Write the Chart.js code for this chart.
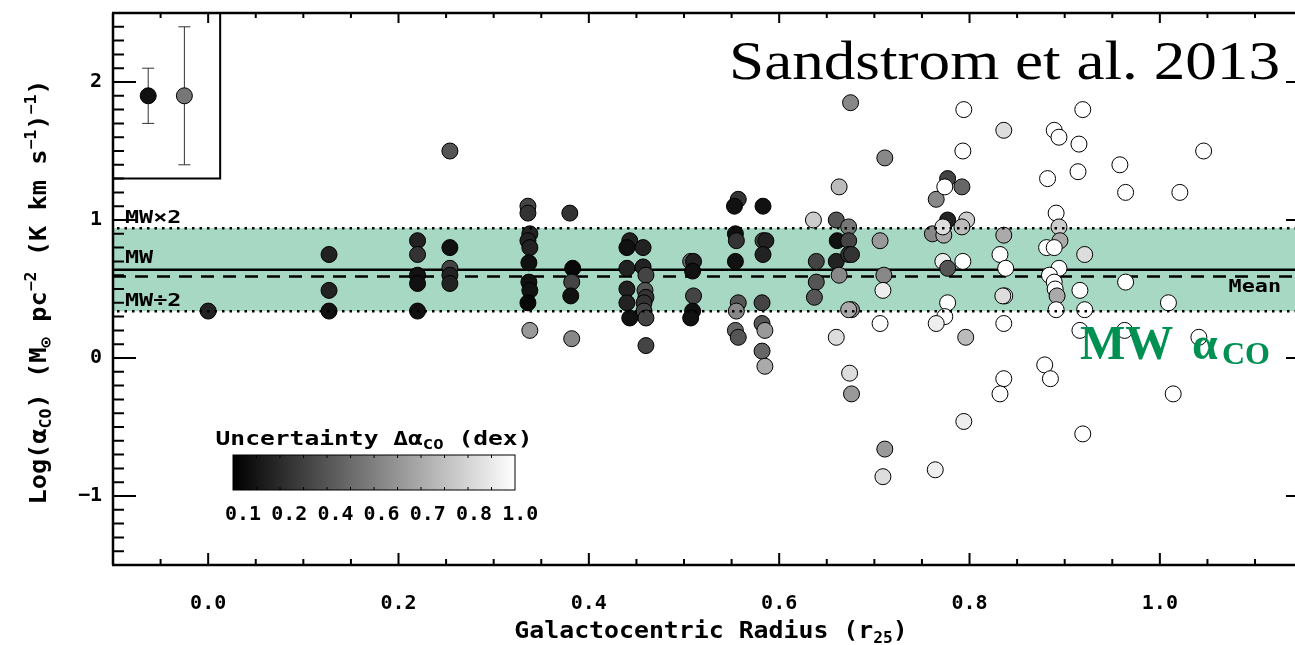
<!DOCTYPE html>
<html>
<head>
<meta charset="utf-8">
<script src="https://cdn.jsdelivr.net/npm/chart.js@4.4.0/dist/chart.umd.min.js"></script>
<style>
  body { margin: 0; background: #fff; }
  #wrap { width: 1295px; height: 645px; }
</style>
</head>
<body>
<div id="wrap"><canvas id="alphaChart" width="1295" height="645"></canvas></div>
<script>
// Galactocentric radius (r25) of each solution pixel
const radius = [
  0.000, 0.127, 0.127, 0.127, 0.220, 0.220, 0.220, 0.220, 0.220, 0.254,
  0.254, 0.254, 0.254, 0.254, 0.336, 0.336, 0.338, 0.336, 0.338, 0.337,
  0.337, 0.338, 0.336, 0.338, 0.380, 0.383, 0.382, 0.381, 0.382, 0.443,
  0.440, 0.440, 0.440, 0.440, 0.443, 0.457, 0.457, 0.460, 0.459, 0.460,
  0.458, 0.458, 0.460, 0.460, 0.507, 0.510, 0.509, 0.510, 0.509, 0.507,
  0.557, 0.553, 0.554, 0.555, 0.554, 0.557, 0.555, 0.554, 0.557, 0.583,
  0.583, 0.586, 0.583, 0.582, 0.582, 0.585, 0.582, 0.585, 0.636, 0.639,
  0.639, 0.637, 0.663, 0.660, 0.661, 0.660, 0.663, 0.660, 0.675, 0.673,
  0.673, 0.673, 0.676, 0.676, 0.673, 0.674, 0.676, 0.711, 0.706, 0.710,
  0.709, 0.706, 0.711, 0.709, 0.764, 0.765, 0.777, 0.774, 0.777, 0.761,
  0.773, 0.772, 0.772, 0.777, 0.777, 0.774, 0.765, 0.794, 0.793, 0.792,
  0.797, 0.792, 0.793, 0.796, 0.794, 0.836, 0.836, 0.832, 0.838, 0.837,
  0.835, 0.836, 0.836, 0.832, 0.889, 0.894, 0.882, 0.891, 0.894, 0.895,
  0.881, 0.889, 0.894, 0.884, 0.889, 0.890, 0.892, 0.891, 0.879, 0.885,
  0.919, 0.915, 0.914, 0.921, 0.916, 0.921, 0.916, 0.919, 0.958, 0.964,
  0.964, 0.963, 1.021, 1.009, 1.014, 1.046, 1.041
];
// log alpha_CO (Msun pc^-2 (K km s^-1)^-1)
const logAlpha = [
  0.34, 0.75, 0.49, 0.34, 0.85, 0.75, 0.60, 0.54, 0.34, 1.50,
  0.80, 0.65, 0.60, 0.54, 1.10, 1.05, 0.90, 0.85, 0.80, 0.69,
  0.55, 0.49, 0.40, 0.20, 1.05, 0.65, 0.55, 0.45, 0.14, 0.85,
  0.80, 0.65, 0.50, 0.40, 0.29, 0.80, 0.66, 0.60, 0.49, 0.44,
  0.40, 0.34, 0.29, 0.09, 0.70, 0.70, 0.63, 0.45, 0.34, 0.29,
  1.15, 1.10, 0.90, 0.85, 0.70, 0.40, 0.34, 0.20, 0.15, 1.10,
  0.85, 0.85, 0.75, 0.40, 0.25, 0.20, 0.05, -0.06, 1.00, 0.70,
  0.55, 0.44, 1.24, 1.00, 0.85, 0.70, 0.60, 0.15, 1.85, 0.95,
  0.85, 0.75, 0.75, 0.35, 0.35, -0.11, -0.26, 1.45, 0.85, 0.60,
  0.49, 0.25, -0.66, -0.86, -0.81, 1.15, 1.30, 1.24, 1.00, 0.90,
  0.89, 0.95, 0.70, 0.65, 0.40, 0.30, 0.25, 1.80, 1.50, 1.24,
  1.00, 0.95, 0.70, 0.15, -0.46, 1.65, 0.89, 0.75, 0.65, 0.45,
  0.45, 0.25, -0.15, -0.26, 1.65, 1.60, 1.30, 1.05, 0.95, 0.85,
  0.80, 0.80, 0.65, 0.60, 0.55, 0.50, 0.45, 0.35, -0.05, -0.15,
  1.80, 1.55, 1.35, 0.75, 0.49, 0.35, 0.20, -0.55, 1.40, 1.20,
  0.55, 0.20, 1.20, 0.40, -0.26, 1.50, 0.15
];
// uncertainty on alpha_CO (dex)
const dAlpha = [
  0.18, 0.18, 0.18, 0.14, 0.18, 0.24, 0.14, 0.14, 0.14, 0.40,
  0.14, 0.32, 0.18, 0.18, 0.32, 0.24, 0.18, 0.18, 0.18, 0.14,
  0.14, 0.14, 0.12, 0.66, 0.24, 0.12, 0.32, 0.14, 0.62, 0.18,
  0.14, 0.18, 0.18, 0.18, 0.14, 0.18, 0.18, 0.32, 0.40, 0.24,
  0.24, 0.32, 0.32, 0.32, 0.48, 0.18, 0.14, 0.32, 0.14, 0.14,
  0.24, 0.14, 0.14, 0.24, 0.14, 0.40, 0.62, 0.48, 0.40, 0.14,
  0.32, 0.18, 0.18, 0.32, 0.40, 0.66, 0.48, 0.70, 0.78, 0.32,
  0.40, 0.40, 0.74, 0.40, 0.14, 0.18, 0.62, 0.84, 0.62, 0.56,
  0.32, 0.24, 0.24, 0.62, 0.70, 0.84, 0.66, 0.62, 0.66, 0.62,
  0.92, 1.00, 0.66, 0.84, 0.92, 0.62, 0.32, 1.00, 0.18, 0.62,
  0.70, 0.84, 0.92, 0.40, 1.00, 1.00, 0.92, 1.00, 1.00, 0.48,
  0.78, 0.74, 1.00, 0.74, 0.92, 0.84, 0.70, 1.00, 1.00, 1.00,
  0.84, 1.00, 1.00, 1.00, 1.00, 1.00, 1.00, 1.00, 0.78, 0.70,
  1.00, 1.00, 1.00, 1.00, 1.00, 1.00, 0.70, 1.00, 1.00, 1.00,
  1.00, 1.00, 1.00, 0.84, 1.00, 1.00, 1.00, 1.00, 1.00, 1.00,
  1.00, 1.00, 1.00, 1.00, 1.00, 1.00, 1.00
];

// inset box: typical error bars
const insetRadius = [-0.063, -0.025];
const insetLog = [1.9, 1.9];
const insetErr = [0.2, 0.5];
const insetDex = [0.14, 0.56];

const xTicks = [0.0, 0.2, 0.4, 0.6, 0.8, 1.0];
const yTicks = [-1, 0, 1, 2];
const cbLabels = [0.1, 0.2, 0.4, 0.6, 0.7, 0.8, 1.0];

const MW_LOG = 0.64;   // log(4.35)
const MEAN_LOG = 0.59;
const FACTOR2 = Math.log10(2);

const LABEL_FONT = '"DejaVu Sans Mono", monospace';
const GREEN = 'rgb(0,145,82)';

// map uncertainty to the grey of the colour bar (labels are evenly spaced)
function greyFor(d) {
  let f = 1;
  for (let i = 0; i < cbLabels.length - 1; i++) {
    if (d <= cbLabels[i + 1]) {
      f = (i + (d - cbLabels[i]) / (cbLabels[i + 1] - cbLabels[i])) / (cbLabels.length - 1);
      break;
    }
  }
  f = Math.max(0, Math.min(1, f));
  const g = Math.round(f * 255);
  return 'rgb(' + g + ',' + g + ',' + g + ')';
}

// draw centred text made of parts {t, size, dy}, stretched by sx
function drawRich(ctx, parts, x, y, sx) {
  let w = 0;
  parts.forEach(p => {
    ctx.font = 'bold ' + p.size + 'px ' + LABEL_FONT;
    w += ctx.measureText(p.t).width;
  });
  ctx.save();
  ctx.translate(x, y);
  ctx.scale(sx, 1);
  let cx = -w / 2;
  ctx.textAlign = 'left';
  ctx.textBaseline = 'alphabetic';
  parts.forEach(p => {
    ctx.font = 'bold ' + p.size + 'px ' + LABEL_FONT;
    ctx.fillText(p.t, cx, p.dy || 0);
    cx += ctx.measureText(p.t).width;
  });
  ctx.restore();
}

function drawStretched(ctx, text, x, y, font, sx, align) {
  ctx.save();
  ctx.translate(x, y);
  ctx.scale(sx, 1);
  ctx.font = font;
  ctx.textAlign = align;
  ctx.textBaseline = 'alphabetic';
  ctx.fillText(text, 0, 0);
  ctx.restore();
}

const idlFrame = {
  id: 'idlFrame',
  beforeDatasetsDraw(chart) {
    const {ctx, chartArea: a, scales: {x, y}} = chart;
    ctx.save();
    ctx.beginPath();
    ctx.rect(a.left, a.top, a.right - a.left, a.bottom - a.top);
    ctx.clip();

    // MW alpha_CO band (factor of 2)
    const yHi = y.getPixelForValue(MW_LOG + FACTOR2);
    const yLo = y.getPixelForValue(MW_LOG - FACTOR2);
    ctx.fillStyle = 'rgb(166,216,196)';
    ctx.fillRect(a.left, yHi, a.right - a.left, yLo - yHi);

    ctx.strokeStyle = '#000';
    ctx.lineWidth = 2.5;
    ctx.beginPath();
    ctx.moveTo(a.left, y.getPixelForValue(MW_LOG));
    ctx.lineTo(a.right, y.getPixelForValue(MW_LOG));
    ctx.stroke();

    ctx.setLineDash([13, 9]);
    ctx.beginPath();
    ctx.moveTo(a.left, y.getPixelForValue(MEAN_LOG));
    ctx.lineTo(a.right, y.getPixelForValue(MEAN_LOG));
    ctx.stroke();
    ctx.setLineDash([]);

    // inset error bars
    ctx.strokeStyle = '#333';
    ctx.lineWidth = 1;
    insetRadius.forEach((r, i) => {
      const px = x.getPixelForValue(r);
      const p1 = y.getPixelForValue(insetLog[i] + insetErr[i]);
      const p2 = y.getPixelForValue(insetLog[i] - insetErr[i]);
      ctx.beginPath();
      ctx.moveTo(px, p1); ctx.lineTo(px, p2);
      ctx.moveTo(px - 6, p1); ctx.lineTo(px + 6, p1);
      ctx.moveTo(px - 6, p2); ctx.lineTo(px + 6, p2);
      ctx.stroke();
    });
    ctx.restore();
  },
  afterDatasetsDraw(chart) {
    const {ctx, chartArea: a, scales: {x, y}} = chart;
    ctx.save();

    // dotted factor-of-2 lines drawn over points
    ctx.strokeStyle = '#000';
    ctx.lineWidth = 2.5;
    ctx.setLineDash([2.5, 5]);
    [MW_LOG + FACTOR2, MW_LOG - FACTOR2].forEach(v => {
      const py = y.getPixelForValue(v);
      ctx.beginPath();
      ctx.moveTo(a.left + 4, py);
      ctx.lineTo(a.right, py);
      ctx.stroke();
    });
    ctx.setLineDash([]);

    // axes
    ctx.lineWidth = 2.5;
    ctx.beginPath();
    ctx.moveTo(a.left, a.top); ctx.lineTo(a.left, a.bottom);
    ctx.moveTo(a.left - 1, a.bottom); ctx.lineTo(a.right, a.bottom);
    ctx.moveTo(a.left - 1, a.top); ctx.lineTo(a.right, a.top);
    ctx.stroke();

    // inward ticks
    ctx.lineWidth = 2;
    ctx.beginPath();
    for (let k = -30; k <= 50; k++) {
      const v = k / 20;
      if (v < x.min || v > x.max) continue;
      const px = x.getPixelForValue(v);
      const major = k % 4 === 0;
      ctx.moveTo(px, a.bottom); ctx.lineTo(px, a.bottom - (major ? 12 : 6));
      ctx.moveTo(px, a.top); ctx.lineTo(px, a.top + (major ? 10 : 5));
    }
    for (let k = -15; k <= 25; k++) {
      const py = y.getPixelForValue(k / 10);
      const major = k % 10 === 0;
      ctx.moveTo(a.left, py); ctx.lineTo(a.left + (major ? 23 : 11), py);
      if (major) { ctx.moveTo(a.right, py); ctx.lineTo(a.right - 9, py); }
    }
    ctx.stroke();

    // inset box
    ctx.lineWidth = 2;
    ctx.beginPath();
    const bx = x.getPixelForValue(0.0126), by = y.getPixelForValue(1.3);
    ctx.moveTo(bx, a.top); ctx.lineTo(bx, by); ctx.lineTo(a.left, by);
    ctx.stroke();

    // band labels
    ctx.fillStyle = '#000';
    const bandFont = 'bold 18px ' + LABEL_FONT;
    drawStretched(ctx, 'MW×2', a.left + 12, y.getPixelForValue(0.98), bandFont, 1.3, 'left');
    drawStretched(ctx, 'MW', a.left + 12, y.getPixelForValue(0.69), bandFont, 1.3, 'left');
    drawStretched(ctx, 'MW÷2', a.left + 12, y.getPixelForValue(0.38), bandFont, 1.3, 'left');
    drawStretched(ctx, 'Mean', 1281, y.getPixelForValue(0.48), 'bold 17px ' + LABEL_FONT, 1.28, 'right');

    // citation
    drawStretched(ctx, 'Sandstrom et al. 2013', 1280, 79, '54px "Liberation Serif", serif', 1.17, 'right');

    // MW alpha_CO label
    ctx.fillStyle = GREEN;
    ctx.textAlign = 'left';
    ctx.font = 'bold 48px "Liberation Serif", serif';
    ctx.fillText('MW', 1080, 359);
    ctx.font = 'bold 46px "Liberation Serif", serif';
    ctx.fillText('α', 1192, 359);
    ctx.font = 'bold 32px "Liberation Serif", serif';
    ctx.fillText('CO', 1222, 364);

    // colour bar
    const cb = {l: 233, r: 515, t: 455, b: 490};
    const grad = ctx.createLinearGradient(cb.l, 0, cb.r, 0);
    grad.addColorStop(0, '#000');
    grad.addColorStop(1, '#fff');
    ctx.fillStyle = grad;
    ctx.fillRect(cb.l, cb.t, cb.r - cb.l, cb.b - cb.t);
    ctx.strokeStyle = '#000';
    ctx.lineWidth = 1;
    ctx.strokeRect(cb.l, cb.t, cb.r - cb.l, cb.b - cb.t);
    ctx.beginPath();
    for (let i = 1; i < 12; i++) {
      const px = cb.l + (cb.r - cb.l) * i / 12;
      ctx.moveTo(px, cb.t); ctx.lineTo(px, cb.t + 3);
      ctx.moveTo(px, cb.b); ctx.lineTo(px, cb.b - 3);
    }
    ctx.stroke();
    ctx.fillStyle = '#000';
    cbLabels.forEach((v, i) => {
      drawStretched(ctx, v.toFixed(1), 243 + i * 46.2, 520, 'bold 19px ' + LABEL_FONT, 1.05, 'center');
    });
    drawRich(ctx, [
      {t: 'Uncertainty Δα', size: 20},
      {t: 'CO', size: 14, dy: 4},
      {t: ' (dex)', size: 20}
    ], 374, 445, 1.23);

    // axis titles
    drawRich(ctx, [
      {t: 'Galactocentric Radius (r', size: 23},
      {t: '25', size: 15, dy: 5},
      {t: ')', size: 23}
    ], 711, 638, 1.08);

    ctx.save();
    ctx.translate(46, 292);
    ctx.rotate(-Math.PI / 2);
    drawRich(ctx, [
      {t: 'Log(α', size: 23},
      {t: 'CO', size: 15, dy: 5},
      {t: ') (M', size: 23},
      {t: '⊙', size: 16, dy: 5},
      {t: ' pc', size: 23},
      {t: '−2', size: 15, dy: -10},
      {t: ' (K km s', size: 23},
      {t: '−1', size: 15, dy: -10},
      {t: ')', size: 23},
      {t: '−1', size: 15, dy: -10},
      {t: ')', size: 23}
    ], 0, 0, 1.1);
    ctx.restore();

    ctx.restore();
  }
};

const tickFont = {family: LABEL_FONT, size: 20, weight: 'bold'};

new Chart(document.getElementById('alphaChart'), {
  type: 'scatter',
  data: {
    datasets: [
      {
        label: 'pixels',
        data: radius.map((r, i) => ({x: r, y: logAlpha[i]})),
        pointBackgroundColor: dAlpha.map(greyFor),
        pointBorderColor: '#000',
        pointBorderWidth: 1,
        pointRadius: 8,
        pointHoverRadius: 8
      },
      {
        label: 'inset',
        data: insetRadius.map((r, i) => ({x: r, y: insetLog[i]})),
        pointBackgroundColor: insetDex.map(greyFor),
        pointBorderColor: '#000',
        pointBorderWidth: 1,
        pointRadius: 8
      }
    ]
  },
  options: {
    responsive: false,
    animation: false,
    layout: {autoPadding: false, padding: {top: 13, right: 0, left: 0, bottom: 0}},
    plugins: {legend: {display: false}, tooltip: {enabled: false}},
    scales: {
      x: {
        type: 'linear',
        min: -0.1,
        max: 1.142,
        grid: {display: false, drawTicks: false},
        border: {display: false},
        afterBuildTicks: s => { s.ticks = xTicks.map(v => ({value: v})); },
        afterFit: s => { s.height = 80; s.paddingLeft = 0; s.paddingRight = 0; },
        ticks: {
          font: tickFont,
          color: '#000',
          padding: 27,
          autoSkip: false,
          maxRotation: 0,
          callback: v => Number(v).toFixed(1)
        }
      },
      y: {
        type: 'linear',
        min: -1.5,
        max: 2.5,
        grid: {display: false, drawTicks: false},
        border: {display: false},
        afterBuildTicks: s => { s.ticks = yTicks.map(v => ({value: v})); },
        afterFit: s => { s.width = 113; s.paddingTop = 0; s.paddingBottom = 0; },
        ticks: {
          font: tickFont,
          color: '#000',
          padding: 11,
          callback: v => v < 0 ? '−' + Math.abs(v) : String(v)
        }
      }
    }
  },
  plugins: [idlFrame]
});
</script>
</body>
</html>
